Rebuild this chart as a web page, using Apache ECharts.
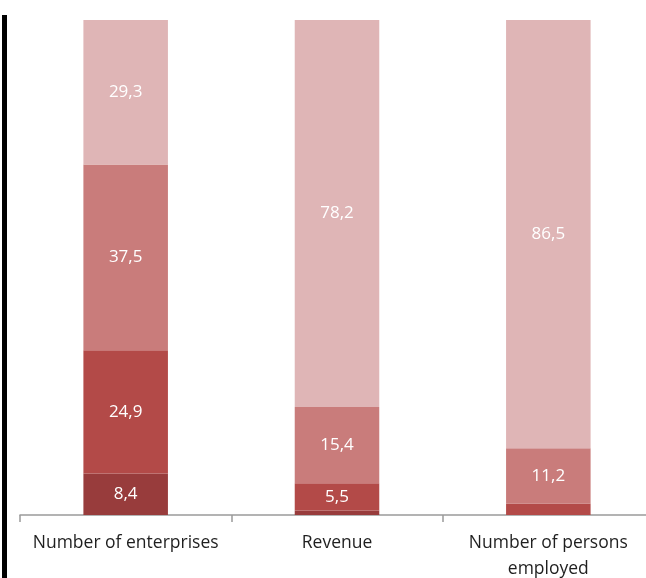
<!DOCTYPE html>
<html>
<head>
<meta charset="utf-8">
<script src="https://cdn.jsdelivr.net/npm/echarts@6/dist/echarts.min.js"></script>
<style>
  html, body { margin: 0; padding: 0; background: #fff; }
  #chart { width: 646px; height: 578px; }
</style>
</head>
<body>
<div id="chart"></div>
<script>
// Shares in percent, stacked from the bottom segment upward
const categories = ['Number of enterprises', 'Revenue', 'Number of persons\nemployed'];
const segA = [8.4, 0.9, 0];     // bottom, darkest
const segB = [24.9, 5.5, 2.3];
const segC = [37.5, 15.4, 11.2];
const segD = [29.3, 78.2, 86.5]; // top, lightest

const colors = ['#983c3c', '#b34a48', '#c97c7b', '#dfb5b6'];
const minLabel = 4; // small slivers carry no label

function makeSeries(name, data, color) {
  return {
    name: name,
    type: 'bar',
    stack: 'total',
    data: data,
    barWidth: '40%',
    itemStyle: { color: color },
    label: {
      show: true,
      position: 'inside',
      color: '#ffffff',
      fontFamily: 'Open Sans',
      fontSize: 17,
      formatter: p => p.value >= minLabel ? p.value.toFixed(1).replace('.', ',') : ''
    }
  };
}

const chart = echarts.init(document.getElementById('chart'), null, { renderer: 'canvas' });
chart.setOption({
  animation: false,
  grid: {
    left: 20, width: 634, top: 20, height: 495,
    containLabel: false,
    outerBoundsMode: 'none'
  },
  xAxis: {
    type: 'category',
    data: categories,
    boundaryGap: true,
    axisLine: { lineStyle: { color: '#9a9a9a', width: 1.5 } },
    axisTick: { show: true, length: 7, lineStyle: { color: '#9a9a9a', width: 1.5 } },
    axisLabel: {
      interval: 0,
      hideOverlap: false,
      color: '#1f1f1f',
      fontFamily: 'Open Sans',
      fontSize: 17.5,
      lineHeight: 26,
      margin: 15
    }
  },
  yAxis: {
    type: 'value',
    min: 0,
    max: 100,
    show: false
  },
  series: [
    makeSeries('A', segA, colors[0]),
    makeSeries('B', segB, colors[1]),
    makeSeries('C', segC, colors[2]),
    makeSeries('D', segD, colors[3])
  ],
  graphic: [{
    type: 'rect',
    shape: { x: 2, y: 15, width: 5, height: 570 },
    style: { fill: '#000000' }
  }]
});
</script>
</body>
</html>
